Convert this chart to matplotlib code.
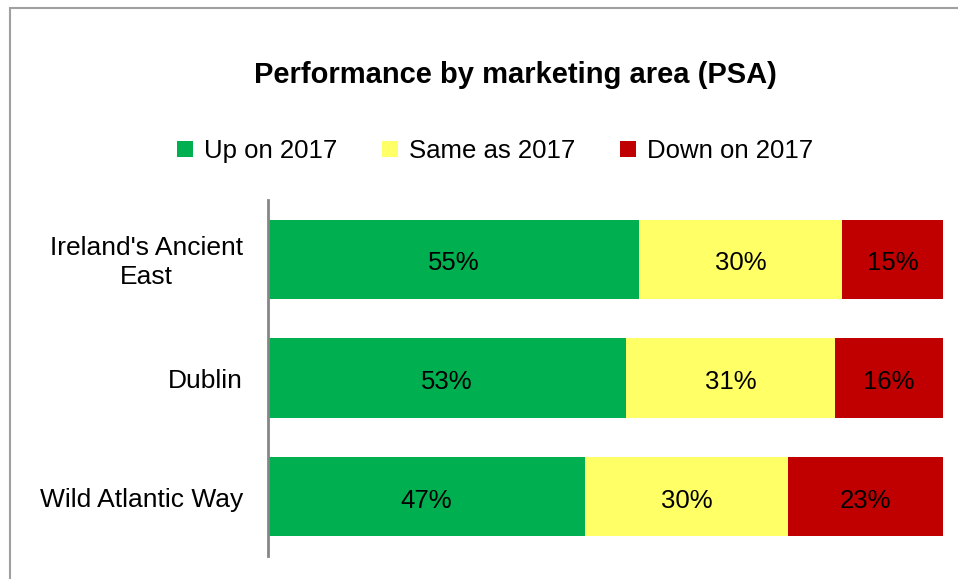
import matplotlib.pyplot as plt
from matplotlib.patches import Rectangle
from matplotlib.transforms import offset_copy, blended_transform_factory

plt.rcParams['font.family'] = ['Liberation Sans', 'DejaVu Sans']

areas = ["Ireland's Ancient\nEast", "Dublin", "Wild Atlantic Way"]
up = [55, 53, 47]
same = [30, 31, 30]
down = [15, 16, 23]
series_names = ["Up on 2017", "Same as 2017", "Down on 2017"]
colors = ["#00B050", "#FFFF66", "#C00000"]

fig = plt.figure(figsize=(9.58, 5.79), dpi=100)
ax = fig.add_axes([268 / 958, 1 - 556 / 579, (943 - 268) / 958, 356 / 579])

# frame round the chart (only left and top visible in the reference)
fig.patches.append(Rectangle((10 / 958, -0.1), 1.2, 1 - 8 / 579 + 0.1,
                             transform=fig.transFigure, fill=False,
                             edgecolor="#a0a0a0", linewidth=1.5))

# Excel-style text sits a little lower than matplotlib's centre
lbl_tr = offset_copy(ax.transData, fig=fig, x=0, y=-4, units="dots")

y = range(len(areas))
left = [0] * len(areas)
for vals, name, col in zip([up, same, down], series_names, colors):
    bars = ax.barh(y, vals, left=left, height=0.67, color=col, label=name)
    for b, v in zip(bars, vals):
        ax.text(b.get_x() + b.get_width() / 2, b.get_y() + b.get_height() / 2,
                f"{v}%", ha="center", va="center", fontsize=18.5, color="black",
                transform=lbl_tr)
    left = [l + v for l, v in zip(left, vals)]

ax.set_xlim(0, 100)
ax.set_ylim(2.5, -0.5)
ax.set_yticks(list(y))
ax.set_yticklabels([])
ax.tick_params(axis="y", length=0)
# category labels, drawn by hand so they can sit a touch lower
cat_tr = offset_copy(blended_transform_factory(ax.transAxes, ax.transData),
                     fig=fig, x=-25, y=-3, units="dots")
for yi, name in zip(y, areas):
    ax.text(0, yi, name, ha="right", va="center", fontsize=19,
            multialignment="center", transform=cat_tr, linespacing=1.27)
ax.set_xticks([])
for s in ["top", "right", "bottom"]:
    ax.spines[s].set_visible(False)
ax.spines["left"].set_color("#868686")
ax.spines["left"].set_linewidth(2)

fig.text(515 / 958, 1 - 75 / 579, "Performance by marketing area (PSA)",
         ha="center", va="center", fontsize=21, fontweight="bold")

fig.legend(loc="center", bbox_to_anchor=(495 / 958, 1 - 151 / 579), ncol=3,
           frameon=False, fontsize=18.5, handlelength=0.62, handleheight=0.62,
           handletextpad=0.43, columnspacing=1.75)

fig.savefig("out.png", dpi=100)
